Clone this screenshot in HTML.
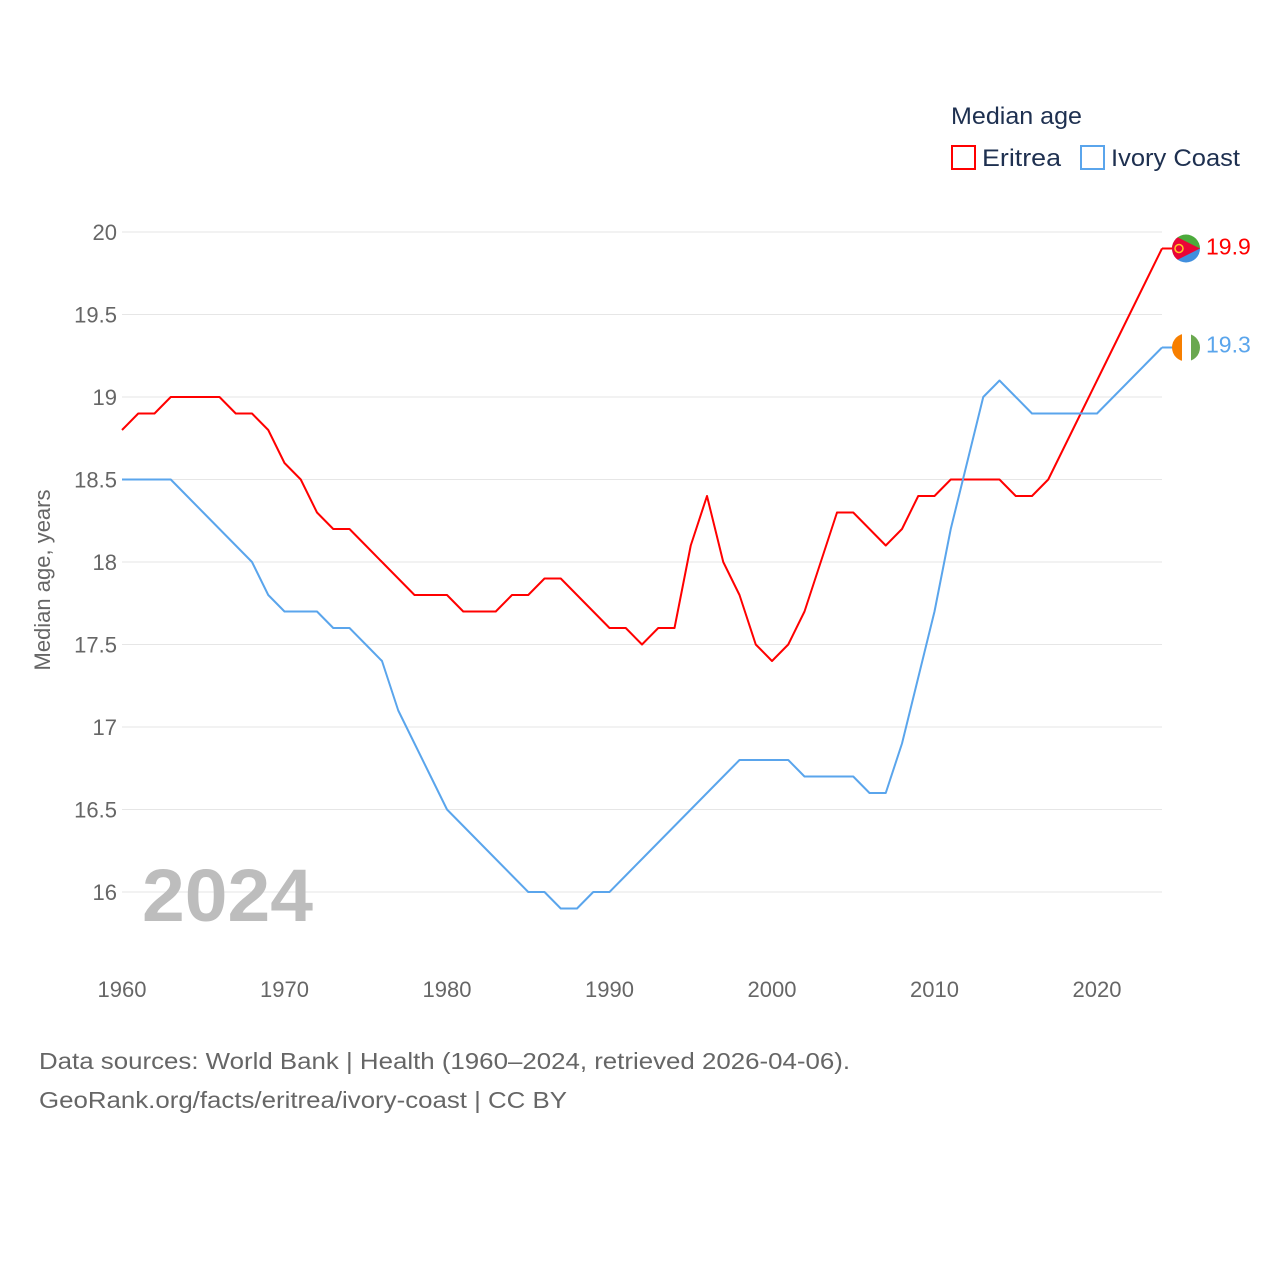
<!DOCTYPE html>
<html><head><meta charset="utf-8"><style>
html,body{margin:0;padding:0;background:#fff;}
body{width:1280px;height:1280px;position:relative;font-family:"Liberation Sans",sans-serif;overflow:hidden;}
svg text{font-family:"Liberation Sans",sans-serif;}
</style></head><body>
<svg id="chart" width="1280" height="1280" xmlns="http://www.w3.org/2000/svg">
<g id="grid"></g>
<g id="yticks"></g>
<g id="xticks"></g>
<text transform="translate(50,580) rotate(-90)" text-anchor="middle" font-size="22" fill="#666">Median age, years</text>
<text x="142" y="921" font-size="74" font-weight="bold" fill="#bdbdbd" textLength="171" lengthAdjust="spacingAndGlyphs">2024</text>
<g id="series"></g>
<g>
<text x="951" y="124" font-size="24" fill="#1e3050" textLength="131" lengthAdjust="spacingAndGlyphs">Median age</text>
<rect x="952" y="146" width="23" height="23" fill="none" stroke="#ff0000" stroke-width="2"/>
<text x="982" y="166" font-size="24" fill="#1e3050" textLength="79" lengthAdjust="spacingAndGlyphs">Eritrea</text>
<rect x="1081" y="146" width="23" height="23" fill="none" stroke="#5aa5ec" stroke-width="2"/>
<text x="1111" y="166" font-size="24" fill="#1e3050" textLength="129" lengthAdjust="spacingAndGlyphs">Ivory Coast</text>
</g>
<text x="39" y="1069" font-size="23" fill="#666" textLength="811" lengthAdjust="spacingAndGlyphs">Data sources: World Bank | Health (1960–2024, retrieved 2026-04-06).</text>
<text x="39" y="1108" font-size="23" fill="#666" textLength="528" lengthAdjust="spacingAndGlyphs">GeoRank.org/facts/eritrea/ivory-coast | CC BY</text>
</svg>
<script>
const years = [];
for (let y = 1960; y <= 2024; y++) years.push(y);
const eritrea = [18.8,18.9,18.9,19.0,19.0,19.0,19.0,18.9,18.9,18.8,18.6,18.5,18.3,18.2,18.2,18.1,18.0,17.9,17.8,17.8,17.8,17.7,17.7,17.7,17.8,17.8,17.9,17.9,17.8,17.7,17.6,17.6,17.5,17.6,17.6,18.1,18.4,18.0,17.8,17.5,17.4,17.5,17.7,18.0,18.3,18.3,18.2,18.1,18.2,18.4,18.4,18.5,18.5,18.5,18.5,18.4,18.4,18.5,18.7,18.9,19.1,19.3,19.5,19.7,19.9];
const ivoryCoast = [18.5,18.5,18.5,18.5,18.4,18.3,18.2,18.1,18.0,17.8,17.7,17.7,17.7,17.6,17.6,17.5,17.4,17.1,16.9,16.7,16.5,16.4,16.3,16.2,16.1,16.0,16.0,15.9,15.9,16.0,16.0,16.1,16.2,16.3,16.4,16.5,16.6,16.7,16.8,16.8,16.8,16.8,16.7,16.7,16.7,16.7,16.6,16.6,16.9,17.3,17.7,18.2,18.6,19.0,19.1,19.0,18.9,18.9,18.9,18.9,18.9,19.0,19.1,19.2,19.3];
const yTicks = [16,16.5,17,17.5,18,18.5,19,19.5,20];
const xTicks = [1960,1970,1980,1990,2000,2010,2020];
const NS = "http://www.w3.org/2000/svg";
const xs = y => 122 + (y - 1960) * 16.25;
const ys = v => 232 + (20 - v) * 165;
function mk(tag, attrs, parent){const e=document.createElementNS(NS,tag);for(const k in attrs)e.setAttribute(k,attrs[k]);parent.appendChild(e);return e;}
const grid=document.getElementById('grid'), yt=document.getElementById('yticks'), xt=document.getElementById('xticks'), ser=document.getElementById('series');
yTicks.forEach(v=>{
  const l=mk('line',{x1:122,x2:1162,y1:ys(v),y2:ys(v),stroke:'#e6e6e6','stroke-width':1},grid);
  
  
  const t=mk('text',{x:117,y:ys(v)+8,'text-anchor':'end','font-size':22,fill:'#666'},yt);
  t.textContent=String(v);
  
  
});
xTicks.forEach(v=>{
  const t=mk('text',{x:xs(v),y:997,'text-anchor':'middle','font-size':22,fill:'#666'},xt);
  t.textContent=String(v);
  
  
});
function drawSeries(vals,color,name,label,dy){
  const d=vals.map((v,i)=>(i?'L':'M')+xs(years[i])+','+ys(v)).join(' ');
  const p=mk('path',{d:d,fill:'none',stroke:color,'stroke-width':2,'stroke-linejoin':'round'},ser);
  
  
  const last=vals[vals.length-1], lx=xs(years[years.length-1]), ly=ys(last);
  const s=mk('line',{x1:lx,x2:lx+12,y1:ly,y2:ly,stroke:color,'stroke-width':2},ser);
  
  
  const t=mk('text',{x:lx+44,y:ly+dy,'font-size':23,fill:color},ser);
  t.textContent=label;
  
  
  return [lx+24,ly];
}
const [ex,ey]=drawSeries(eritrea,'#ff0000','eritrea','19.9',6);
const [ix,iy]=drawSeries(ivoryCoast,'#5aa5ec','ivory-coast','19.3',5);
const ef=mk('g',{},ser);


const cp1=mk('clipPath',{id:'ce'},ef);mk('circle',{cx:ex,cy:ey,r:14},cp1);
const eg=mk('g',{'clip-path':'url(#ce)'},ef);
mk('rect',{x:ex-14,y:ey-14,width:28,height:14,fill:'#4caa3c'},eg);
mk('rect',{x:ex-14,y:ey,width:28,height:14,fill:'#418fde'},eg);
mk('polygon',{points:`${ex-14},${ey-14} ${ex+14},${ey} ${ex-14},${ey+14}`,fill:'#ea0437'},eg);
mk('circle',{cx:ex-7,cy:ey,r:4,fill:'none',stroke:'#ffc726','stroke-width':1.5},eg);
const icf=mk('g',{},ser);


const cp2=mk('clipPath',{id:'ci'},icf);mk('circle',{cx:ix,cy:iy,r:14},cp2);
const ig=mk('g',{'clip-path':'url(#ci)'},icf);
mk('rect',{x:ix-14,y:iy-14,width:10,height:28,fill:'#f77f00'},ig);
mk('rect',{x:ix-4,y:iy-14,width:9,height:28,fill:'#ffffff'},ig);
mk('rect',{x:ix+5,y:iy-14,width:10,height:28,fill:'#6aa84f'},ig);
</script>
</body></html>
